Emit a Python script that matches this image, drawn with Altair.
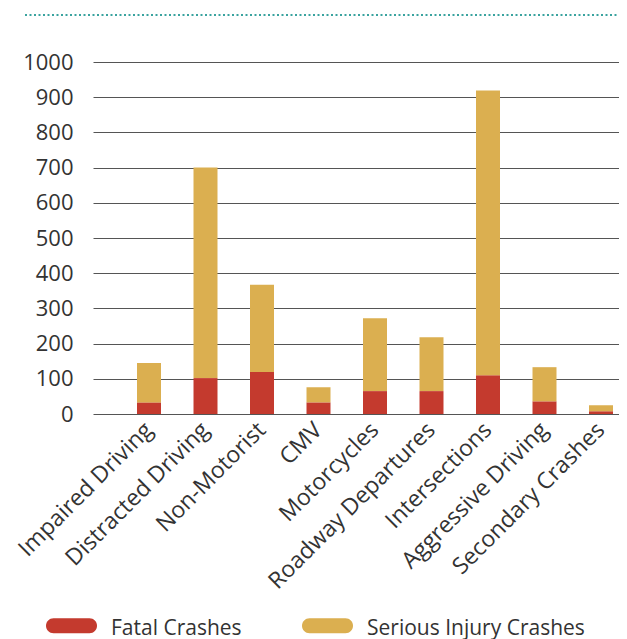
import altair as alt
import pandas as pd

categories = ["Impaired Driving", "Distracted Driving", "Non-Motorist", "CMV",
              "Motorcycles", "Roadway Departures", "Intersections",
              "Aggressive Driving", "Secondary Crashes"]
fatal = [33, 102, 119, 33, 65, 65, 110, 36, 8]
serious = [112, 598, 248, 43, 207, 153, 809, 97, 17]
series_names = ["Fatal Crashes", "Serious Injury Crashes"]
colors = ["#C43A2E", "#DBAF50"]
y_ticks = list(range(0, 1001, 100))

rows = []
for c, f, s in zip(categories, fatal, serious):
    rows.append({"cat": c, "series": series_names[0], "value": f, "ord": 0})
    rows.append({"cat": c, "series": series_names[1], "value": s, "ord": 1})
df = pd.DataFrame(rows)

FONT = "Open Sans"
TXT = "#333333"
PILL = ("M-0.706,-0.414 L0.706,-0.414 A0.294,0.294 0 0 1 0.706,0.174 "
        "L-0.706,0.174 A0.294,0.294 0 0 1 -0.706,-0.414 Z")

bars = alt.Chart(df).mark_bar(size=24).encode(
    x=alt.X("cat:N", sort=categories, title=None,
            scale=alt.Scale(range=[0, 536.25], paddingInner=0,
                            paddingOuter=0.2456, align=1),
            axis=alt.Axis(labelAngle=-45, labelAlign="right", labelBaseline="middle",
                          labelFontSize=23, labelFont=FONT, labelColor=TXT,
                          labelPadding=12, ticks=False, domain=False, grid=False,
                          labelOverlap=False, labelLimit=0)),
    y=alt.Y("value:Q", stack="zero", title=None,
            scale=alt.Scale(domain=[0, 1000], nice=False),
            axis=alt.Axis(values=y_ticks, format="d", labelFontSize=22, labelFont=FONT,
                          labelColor=TXT, labelPadding=20, ticks=False,
                          domain=False, gridColor="#555555", gridWidth=1)),
    color=alt.Color("series:N", sort=series_names,
                    scale=alt.Scale(domain=series_names, range=colors),
                    legend=alt.Legend(title=None, orient="none", legendX=-47,
                                      legendY=541, direction="horizontal",
                                      symbolType=PILL, symbolSize=2601,
                                      symbolStrokeWidth=0, symbolOpacity=1,
                                      labelFont=FONT, labelFontSize=21,
                                      labelColor=TXT, labelOffset=14,
                                      columnPadding=60, labelLimit=0)),
    order=alt.Order("ord:Q"),
)

dots = alt.Chart(pd.DataFrame({"a": [0]})).mark_rule(
    color="#3AA39F", strokeWidth=2, strokeDash=[2, 2.5]
).encode(x=alt.value(-68), x2=alt.value(540), y=alt.value(-47))

chart = alt.layer(bars, dots).properties(
    width=526, height=352,
    padding={"left": 85, "top": 54, "right": 0, "bottom": 225},
    autosize=alt.AutoSizeParams(type="none"),
).configure_view(stroke=None)

chart.save("out.html", embed_options={"renderer": "svg", "actions": False})
